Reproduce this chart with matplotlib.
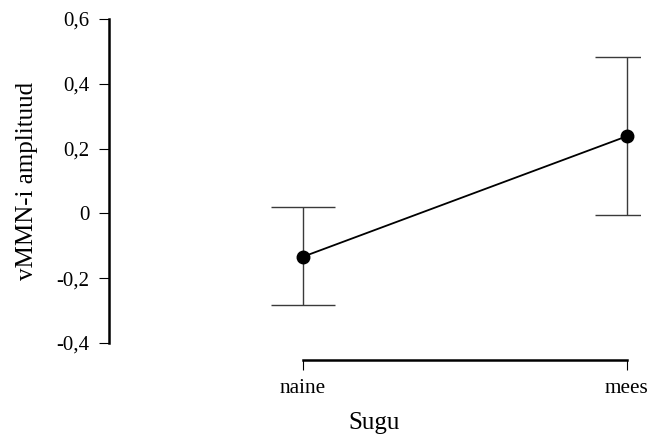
import matplotlib
matplotlib.use('Agg')
import matplotlib.pyplot as plt

plt.rcParams['font.family'] = ['Liberation Serif', 'DejaVu Serif']

groups = ['naine', 'mees']
means = [-0.134, 0.238]
upper = [0.019, 0.484]
lower = [-0.283, -0.006]
yticks = [-0.4, -0.2, 0, 0.2, 0.4, 0.6]
yticklabels = ['-0,4', '-0,2', '0', '0,2', '0,4', '0,6']

W, H = 654, 436
fig = plt.figure(figsize=(W / 100, H / 100), dpi=100)
# axes box in pixels: left 109, right 640, top 19, bottom 343
ax = fig.add_axes([109 / W, (H - 343) / H, (640 - 109) / W, 324 / H])

xs = list(range(len(groups)))
err_lo = [m - l for m, l in zip(means, lower)]
err_hi = [u - m for u, m in zip(upper, means)]
ax.errorbar(xs, means, yerr=[err_lo, err_hi], fmt='none', ecolor='#3a3a3a',
            elinewidth=1.0, capsize=23, capthick=1.0, zorder=2)
ax.plot(xs, means, color='black', linewidth=1.3, marker='o', markersize=9, zorder=3)

ax.set_ylim(-0.4, 0.6)
ax.set_xlim(-0.598, 1.041)
ax.set_yticks(yticks)
ax.set_yticklabels(yticklabels)
ax.set_xticks(xs)
ax.set_xticklabels(groups)

for s in ['top', 'right']:
    ax.spines[s].set_visible(False)
ax.spines['left'].set_bounds(-0.4, 0.6)
ax.spines['left'].set_linewidth(1.8)
ax.spines['bottom'].set_position(('outward', 12.2))
ax.spines['bottom'].set_bounds(0, 1)
ax.spines['bottom'].set_linewidth(1.8)

ax.tick_params(axis='y', length=7, width=0.8, pad=7, labelsize=15)
ax.tick_params(axis='x', length=7, width=0.8, pad=7, labelsize=15.3)
ax.set_ylabel('vMMN-i amplituud', fontsize=18, labelpad=13)
ax.set_xlabel('Sugu', fontsize=18, labelpad=10)

fig.savefig('out.png', dpi=100)
